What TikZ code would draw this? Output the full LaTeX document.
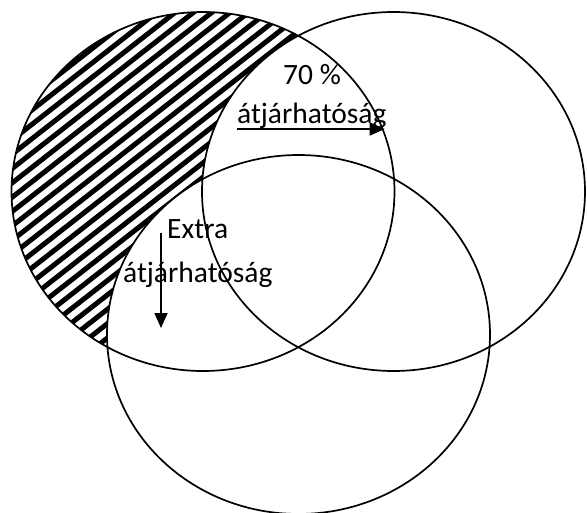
\documentclass[tikz,border=0pt]{standalone}
\usepackage{fontspec}
\setmainfont{Carlito}
\usetikzlibrary{arrows.meta}
\tikzset{
  every node/.style={font=\fontsize{29.5}{35}\selectfont, inner sep=0pt, text=black},
  lbl/.style={anchor=base west},
  ring/.style={draw=black, line width=1.7pt},
  hatchline/.style={draw=black, line width=5pt},
  blank/.style={fill=white, draw=none},
  arr/.style={-{Triangle[length=15pt, width=13pt]}, line width=1.8pt, draw=black},
}

\begin{document}
\begin{tikzpicture}[x=1pt, y=-1pt]

\clip (0,0) rectangle (587,512);

% --- circle centres ---
\coordinate (cl) at (203,191.5);
\coordinate (cr) at (393.5,191.5);
\coordinate (cb) at (298.5,334.5);

% --- hatched part of the left circle ---
\begin{scope}
\clip (cl) ellipse [x radius=191.5pt, y radius=179.5pt];
\foreach \k in {-19,...,19}
  \draw[hatchline] ({203+\k*11.3*0.616-260*0.788},{191.5+\k*11.3*0.788+260*0.616})
    -- ({203+\k*11.3*0.616+260*0.788},{191.5+\k*11.3*0.788-260*0.616});
\path[blank] (cr) ellipse [x radius=191.5pt, y radius=179.5pt];
\path[blank] (cb) ellipse [x radius=191.5pt, y radius=179.5pt];
\end{scope}

% --- circles ---
\draw[ring] (cl) ellipse [x radius=191.5pt, y radius=179.5pt];
\draw[ring] (cr) ellipse [x radius=191.5pt, y radius=179.5pt];
\draw[ring] (cb) ellipse [x radius=191.5pt, y radius=179.5pt];

% --- labels ---
\node[lbl] (pct) at (283,84) {70 \%};
\node[lbl] (toplbl) at (237,123) {átjárhatóság};
\node[lbl] (extra) at (167,238) {Extra};
\node[lbl] (extralbl) at (123,282) {átjárhatóság};

% --- arrows ---
\draw[arr] ([yshift=-6pt]toplbl.base west) -- ([xshift=-2pt, yshift=-6pt]toplbl.base east);
\draw[arr] ([xshift=-6pt, yshift=5pt]extra.base west) -- ([xshift=-6pt, yshift=-90pt]extra.base west);

\end{tikzpicture}
\end{document}
